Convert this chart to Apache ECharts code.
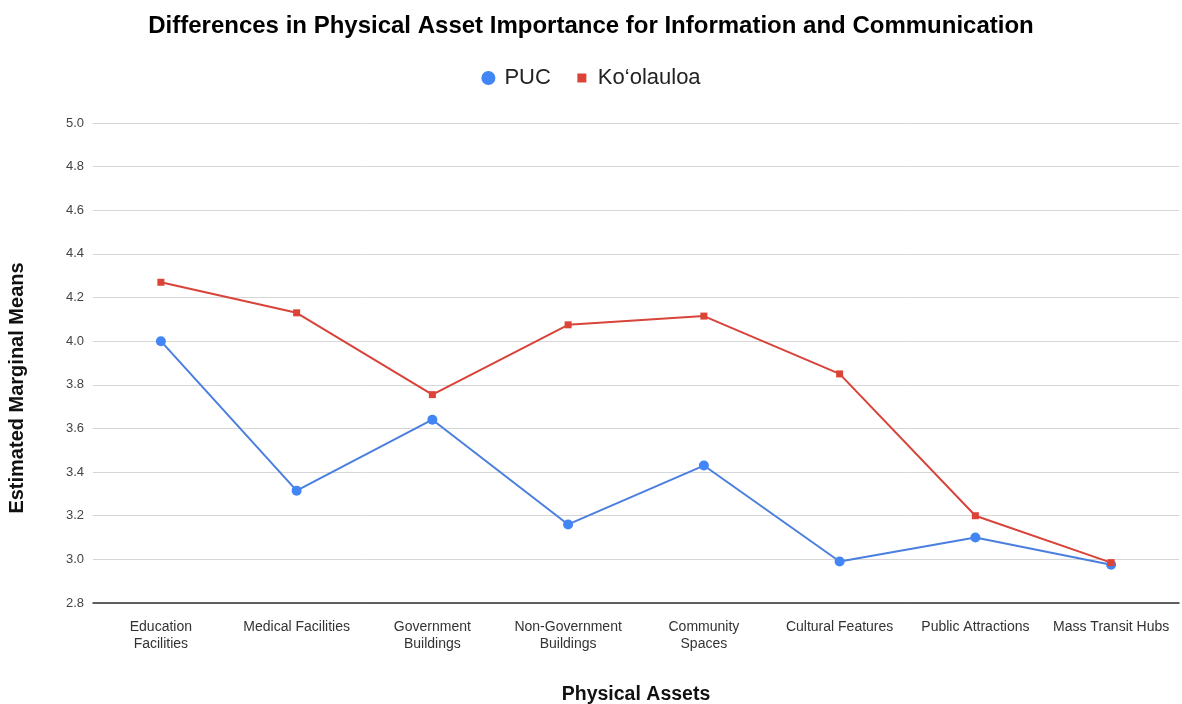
<!DOCTYPE html>
<html>
<head>
<meta charset="utf-8">
<script src="https://cdn.jsdelivr.net/npm/echarts@6/dist/echarts.min.js"></script>
<style>
  html, body { margin: 0; padding: 0; background: #fff; }
  #chart { width: 1182px; height: 704px; }
</style>
</head>
<body>
<div id="chart"></div>
<script>
// Physical asset categories (label line breaks included)
const categories = [
  'Education\nFacilities',
  'Medical Facilities',
  'Government\nBuildings',
  'Non-Government\nBuildings',
  'Community\nSpaces',
  'Cultural Features',
  'Public Attractions',
  'Mass Transit Hubs'
];

// Estimated marginal means per region
const pucValues = [4.00, 3.315, 3.64, 3.16, 3.43, 2.99, 3.10, 2.975];
const koolauloaValues = [4.27, 4.13, 3.755, 4.075, 4.115, 3.85, 3.20, 2.985];

const seriesNames = ['PUC', 'Ko\u2018olauloa'];

const font = '"Liberation Sans", Arial, sans-serif';

// Legend square: smaller than the circle, padded inside the icon box
const smallSquareIcon = 'path://M0,0M14,14M2.5,2.5h9v9h-9z';

const chart = echarts.init(document.getElementById('chart'), null, { renderer: 'canvas' });

chart.setOption({
  backgroundColor: '#ffffff',
  textStyle: { fontFamily: font },
  title: {
    text: 'Differences in Physical Asset Importance for Information and Communication',
    left: 'center',
    top: 9,
    textStyle: { fontFamily: font, fontSize: 24, fontWeight: 'bold', color: '#000' }
  },
  legend: {
    top: 62,
    left: 'center',
    itemGap: 24,
    itemWidth: 14,
    itemHeight: 14,
    textStyle: { fontFamily: font, fontSize: 22, color: '#222', padding: [0, 0, 0, 4] },
    data: [
      { name: seriesNames[0], icon: 'circle' },
      { name: seriesNames[1], icon: smallSquareIcon }
    ]
  },
  grid: { left: 93, right: 3, top: 123, bottom: 101, containLabel: false, outerBoundsMode: 'none' },
  xAxis: {
    type: 'category',
    data: categories,
    boundaryGap: true,
    name: 'Physical Assets',
    nameLocation: 'middle',
    nameGap: 82,
    nameTextStyle: { fontFamily: font, fontSize: 19.5, fontWeight: 'bold', color: '#111' },
    axisLine: { lineStyle: { color: '#333', width: 1.5 } },
    axisTick: { alignWithLabel: true, length: 6, lineStyle: { color: '#333' } },
    axisLabel: { fontFamily: font, fontSize: 14, color: '#333', margin: 16, lineHeight: 17, interval: 0 }
  },
  yAxis: {
    type: 'value',
    min: 2.8,
    max: 5.0,
    interval: 0.2,
    name: 'Estimated Marginal Means',
    nameLocation: 'middle',
    nameGap: 66,
    nameRotate: 90,
    nameTextStyle: {
      fontFamily: font, fontSize: 20, fontWeight: 'bold', color: '#111',
      padding: [0, 50, 0, 0]
    },
    axisLine: { show: false },
    axisTick: { show: false },
    axisLabel: {
      fontFamily: font, fontSize: 13, color: '#444', margin: 9,
      formatter: v => v.toFixed(1)
    },
    splitLine: { lineStyle: { color: '#d6d6d6', width: 1 } }
  },
  series: [
    {
      name: seriesNames[0],
      type: 'line',
      data: pucValues,
      symbol: 'circle',
      symbolSize: 10,
      color: '#4285F4',
      lineStyle: { width: 2, color: '#4a7fe0' },
      itemStyle: { color: '#4285F4' },
      z: 2
    },
    {
      name: seriesNames[1],
      type: 'line',
      data: koolauloaValues,
      symbol: 'rect',
      symbolSize: 7,
      color: '#DB4437',
      lineStyle: { width: 2, color: '#d8433a' },
      itemStyle: { color: '#DB4437' },
      z: 3
    }
  ],
  animation: false
});
</script>
</body>
</html>
